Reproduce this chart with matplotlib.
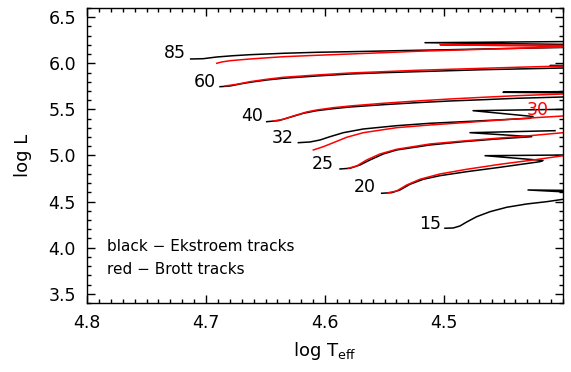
import numpy as np
import matplotlib
matplotlib.use('Agg')
import matplotlib.pyplot as plt
from matplotlib.ticker import MultipleLocator

# Ekstroem (black) tracks: log Teff, log L  (ZAMS -> turnoff -> hook)
ek_masses = ['85', '60', '40', '32', '25', '20', '15']
ek_teff = {
    '85': [4.7129, 4.7023, 4.6910, 4.6771, 4.6630, 4.6350, 4.6070, 4.5790, 4.5510,
           4.5229, 4.4950, 4.4670, 4.4361, 4.4000, 4.3899, 4.3899, 4.5160, 4.3899],
    '60': [4.6882, 4.6798, 4.6714, 4.6630, 4.6490, 4.6350, 4.6070, 4.5790, 4.5510,
           4.5229, 4.4950, 4.4670, 4.4389, 4.4000, 4.3899, 4.3899, 4.4109, 4.3899],
    '40': [4.6490, 4.6392, 4.6294, 4.6182, 4.6070, 4.5930, 4.5790, 4.5510, 4.5229,
           4.4950, 4.4670, 4.4389, 4.4000, 4.3899, 4.3899, 4.4504, 4.3899],
    '32': [4.6224, 4.6126, 4.6042, 4.5958, 4.5846, 4.5678, 4.5398, 4.5118, 4.4838,
           4.4557, 4.4277, 4.4252, 4.4756, 4.3983],
    '25': [4.5874, 4.5790, 4.5706, 4.5622, 4.5510, 4.5398, 4.5118, 4.4838, 4.4557,
           4.4263, 4.4782, 4.4067],
    '20': [4.5524, 4.5440, 4.5370, 4.5286, 4.5174, 4.5034, 4.4809, 4.4529, 4.4193,
           4.4168, 4.4655, 4.3941],
    '15': [4.4992, 4.4922, 4.4866, 4.4809, 4.4725, 4.4613, 4.4473, 4.4305, 4.4137,
           4.3997, 4.3899, 4.3899, 4.4294, 4.3899],
}
ek_logl = {
    '85': [6.0469, 6.0501, 6.0685, 6.0826, 6.0935, 6.1087, 6.1195, 6.1260, 6.1336,
           6.1412, 6.1477, 6.1553, 6.1629, 6.1716, 6.1738, 6.2041, 6.2236, 6.2367],
    '60': [5.7464, 5.7540, 5.7757, 5.7941, 5.8191, 5.8375, 5.8625, 5.8842, 5.8983,
           5.9091, 5.9200, 5.9308, 5.9384, 5.9492, 5.9510, 5.9709, 5.9753, 5.9785],
    '40': [5.3668, 5.3777, 5.4145, 5.4579, 5.4861, 5.5078, 5.5262, 5.5512, 5.5729,
           5.5913, 5.6054, 5.6206, 5.6347, 5.6390, 5.6781, 5.6857, 5.6944],
    '32': [5.1390, 5.1466, 5.1683, 5.2041, 5.2475, 5.2876, 5.3234, 5.3495, 5.3668,
           5.3852, 5.4037, 5.4232, 5.4861, 5.5013],
    '25': [4.8538, 4.8614, 4.8972, 4.9514, 5.0165, 5.0599, 5.1141, 5.1499, 5.1792,
           5.2041, 5.2475, 5.2692],
    '20': [4.5902, 4.5967, 4.6260, 4.6879, 4.7421, 4.7811, 4.8245, 4.8722, 4.9330,
           4.9460, 4.9980, 5.0056],
    '15': [4.2106, 4.2139, 4.2356, 4.2790, 4.3364, 4.3907, 4.4384, 4.4742, 4.4991,
           4.5252, 4.5360, 4.5989, 4.6260, 4.6206],
}

# Brott (red) tracks
br_masses = ['85', '60', '40', '30', '25', '20']
br_teff = {
    '85': [4.6910, 4.6868, 4.6798, 4.6630, 4.6350, 4.6070, 4.5790, 4.5510, 4.5229,
           4.4950, 4.4670, 4.4389, 4.4000, 4.3899, 4.3899, 4.5034, 4.3899],
    '60': [4.6840, 4.6742, 4.6630, 4.6490, 4.6350, 4.6070, 4.5790, 4.5510, 4.5229,
           4.4950, 4.4670, 4.4389, 4.3997],
    '40': [4.6434, 4.6350, 4.6266, 4.6154, 4.6070, 4.5930, 4.5790, 4.5510, 4.5229,
           4.4950, 4.4670, 4.4389, 4.3997],
    '30': [4.6098, 4.6014, 4.5930, 4.5818, 4.5678, 4.5398, 4.5118, 4.4838, 4.4557,
           4.4277, 4.3997],
    '25': [4.5804, 4.5734, 4.5650, 4.5538, 4.5398, 4.5118, 4.4838, 4.4557, 4.4277,
           4.3997],
    '20': [4.5468, 4.5398, 4.5313, 4.5202, 4.5034, 4.4809, 4.4529, 4.4250, 4.3997],
}
br_logl = {
    '85': [6.0002, 6.0143, 6.0284, 6.0469, 6.0718, 6.0870, 6.1011, 6.1152, 6.1304,
           6.1412, 6.1521, 6.1629, 6.1770, 6.1792, 6.1810, 6.2020, 6.1933],
    '60': [5.7540, 5.7725, 5.8007, 5.8267, 5.8484, 5.8733, 5.8950, 5.9091, 5.9243,
           5.9351, 5.9460, 5.9568, 5.9709],
    '40': [5.3744, 5.3928, 5.4286, 5.4720, 5.4937, 5.5187, 5.5371, 5.5664, 5.5913,
           5.6130, 5.6315, 5.6488, 5.6672],
    '30': [5.0599, 5.0957, 5.1390, 5.1976, 5.2475, 5.3017, 5.3310, 5.3560, 5.3820,
           5.4069, 5.4286],
    '25': [4.8614, 4.8863, 4.9514, 5.0165, 5.0675, 5.1249, 5.1575, 5.1868, 5.2150,
           5.2475],
    '20': [4.5967, 4.6152, 4.6803, 4.7421, 4.7996, 4.8505, 4.9048, 4.9514, 4.9980],
}

# mass labels
ek_label_pos = {'85': (4.726, 6.112), '60': (4.7008, 5.797), '40': (4.6613, 5.4286),
                '32': (4.6353, 5.190), '25': (4.6017, 4.908), '20': (4.5664, 4.6586),
                '15': (4.5118, 4.2573)}
br_label = ('30', 4.421, 5.4937)

fig = plt.figure(figsize=(5.71, 3.72), dpi=100)
ax = fig.add_axes([0.1524, 0.1855, 0.8336, 0.793])

for m in ek_masses:
    ax.plot(ek_teff[m], ek_logl[m], color='black', lw=1.1)
for m in br_masses:
    ax.plot(br_teff[m], br_logl[m], color='red', lw=1.1)

for m in ek_masses:
    x, y = ek_label_pos[m]
    ax.text(x, y, m, ha='center', va='center', fontsize=12.5)
ax.text(br_label[1], br_label[2], br_label[0], ha='center', va='center',
        fontsize=12.5, color='red')

ax.text(4.7832, 4.008, 'black \u2212 Ekstroem tracks', ha='left', va='center', fontsize=11)
ax.text(4.7832, 3.758, 'red \u2212 Brott tracks', ha='left', va='center', fontsize=11)

ax.set_xlim(4.8, 4.4)
ax.set_ylim(3.4, 6.6)
ax.xaxis.set_minor_locator(MultipleLocator(0.01))
ax.yaxis.set_minor_locator(MultipleLocator(0.1))
ax.tick_params(which='both', direction='in', top=True, right=True, labelsize=12.5, width=1.0)
ax.tick_params(which='major', length=6, pad=8)
ax.tick_params(which='minor', length=3)
ax.set_xticks([4.8, 4.7, 4.6, 4.5])
ax.set_xticklabels(['4.8', '4.7', '4.6', '4.5'])
ax.set_yticks([3.5, 4.0, 4.5, 5.0, 5.5, 6.0, 6.5])
ax.set_yticklabels(['3.5', '4.0', '4.5', '5.0', '5.5', '6.0', '6.5'])
for s in ax.spines.values():
    s.set_linewidth(1.0)

ax.set_xlabel(r'log T$_{\rm eff}$', fontsize=13, labelpad=6)
ax.set_ylabel('log L', fontsize=13, labelpad=12)

fig.savefig('out.png', dpi=100)
